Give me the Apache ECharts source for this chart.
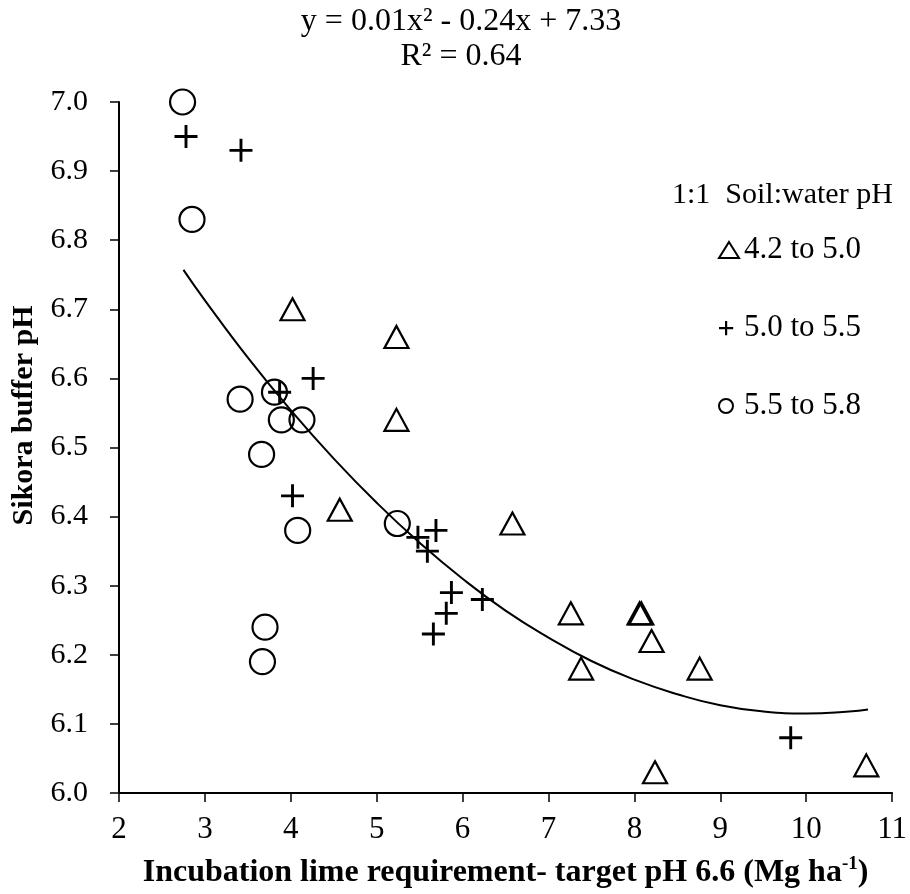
<!DOCTYPE html>
<html>
<head>
<meta charset="utf-8">
<script src="https://cdn.jsdelivr.net/npm/echarts@6/dist/echarts.min.js"></script>
<style>html,body{margin:0;padding:0;background:#fff}#c{width:910px;height:894px}</style>
</head>
<body>
<div id="c"></div>
<script>
// 4.2 to 5.0 (triangles)
var triX = [4.02, 5.23, 5.23, 4.57, 6.58, 7.26, 8.06, 8.08, 8.20, 7.38, 8.76, 8.24, 10.70];
var triY = [6.70, 6.66, 6.54, 6.41, 6.39, 6.26, 6.26, 6.26, 6.22, 6.18, 6.18, 6.03, 6.04];
// 5.0 to 5.5 (crosses)
var crossX = [2.78, 3.42, 3.87, 4.26, 4.02, 5.48, 5.69, 5.59, 5.87, 5.81, 5.66, 6.23, 9.82];
var crossY = [6.95, 6.93, 6.58, 6.60, 6.43, 6.37, 6.38, 6.35, 6.29, 6.26, 6.23, 6.28, 6.08];
// 5.5 to 5.8 (circles)
var circX = [2.74, 2.85, 3.41, 3.81, 3.89, 4.13, 3.66, 4.08, 5.24, 3.70, 3.67];
var circY = [7.00, 6.83, 6.57, 6.58, 6.54, 6.54, 6.49, 6.38, 6.39, 6.24, 6.19];
// trend line
var trendX = [2.75, 3.0, 3.5, 4.0, 4.5, 5.0, 5.5, 6.0, 6.5, 7.0, 7.5, 8.0, 8.5, 9.0, 9.5, 10.0, 10.5, 10.72];
var trendY = [6.757, 6.713, 6.630, 6.554, 6.484, 6.420, 6.362, 6.310, 6.264, 6.225, 6.191, 6.164, 6.143, 6.127, 6.118, 6.115, 6.118, 6.121];
var seriesNames = ['4.2 to 5.0', '5.0 to 5.5', '5.5 to 5.8'];
var xTicks = {min: 2, max: 11, interval: 1};
var yTicks = {min: 6.0, max: 7.0, interval: 0.1};

function pairs(xs, ys) { return xs.map(function (x, i) { return [x, ys[i]]; }); }

var FONT = '"Liberation Serif", "Times New Roman", serif';
var plusPath = 'path://M9,0h2.6v9h9v2.6h-9v9h-2.6v-9h-9v-2.6h9z';
// legend icons (padded to the 20x16 legend box, left aligned)
var legendPlus = 'path://M0,0M20,16M0,7h6v-6h2.2v6h6v2.2h-6v6h-2.2v-6h-6z';
var legendCircle = 'path://M0,0M20,16M14,8A7,7,0,1,1,0,8A7,7,0,1,1,14,8z';

var chart = echarts.init(document.getElementById('c'), null, {renderer: 'canvas'});
chart.setOption({
  animation: false,
  backgroundColor: '#fff',
  textStyle: {fontFamily: FONT, color: '#000'},
  grid: {left: 119, right: 16, top: 102, bottom: 101, containLabel: false},
  graphic: [
    {type: 'text', x: 461, y: 22, style: {text: 'y = 0.01x² - 0.24x + 7.33', font: '32px ' + FONT, fill: '#000', textAlign: 'center', textVerticalAlign: 'middle'}},
    {type: 'text', x: 461, y: 57, style: {text: 'R² = 0.64', font: '32px ' + FONT, fill: '#000', textAlign: 'center', textVerticalAlign: 'middle'}},
    {type: 'text', x: 672, y: 195, style: {text: '1:1  Soil:water pH', font: '30px ' + FONT, fill: '#000', textAlign: 'left', textVerticalAlign: 'middle'}}
  ],
  legend: {
    orient: 'vertical',
    left: 713,
    top: 229,
    padding: 5,
    itemWidth: 20,
    itemHeight: 16,
    itemGap: 46,
    textStyle: {fontFamily: FONT, fontSize: 31, color: '#000', lineHeight: 32},
    data: [
      {name: seriesNames[0], icon: 'triangle'},
      {name: seriesNames[1], icon: legendPlus},
      {name: seriesNames[2], icon: legendCircle}
    ]
  },
  xAxis: {
    type: 'value',
    min: xTicks.min, max: xTicks.max, interval: xTicks.interval,
    splitLine: {show: false},
    axisLine: {show: true, onZero: false, lineStyle: {color: '#000', width: 2}},
    axisTick: {show: true, inside: false, length: 9, lineStyle: {color: '#000', width: 1.5}},
    axisLabel: {fontFamily: FONT, fontSize: 31, color: '#000', margin: 21},
    name: '{a|Incubation lime requirement- target pH 6.6 (Mg ha}{s|-1}{a|)}',
    nameLocation: 'middle',
    nameGap: 62,
    nameTextStyle: {
      rich: {
        a: {fontFamily: FONT, fontSize: 32, fontWeight: 'bold', color: '#000', lineHeight: 36},
        s: {fontFamily: FONT, fontSize: 19, fontWeight: 'bold', color: '#000', verticalAlign: 'top', lineHeight: 19, padding: [0, 0, 14, 0]}
      }
    }
  },
  yAxis: {
    type: 'value',
    min: yTicks.min, max: yTicks.max, interval: yTicks.interval,
    splitLine: {show: false},
    axisLine: {show: true, onZero: false, lineStyle: {color: '#000', width: 2}},
    axisTick: {show: true, inside: false, length: 9, lineStyle: {color: '#000', width: 1.5}},
    axisLabel: {fontFamily: FONT, fontSize: 30, color: '#000', margin: 31, formatter: function (v) { return v.toFixed(1); }},
    name: 'Sikora buffer pH',
    nameLocation: 'middle',
    nameRotate: 90,
    nameGap: 68,
    nameTextStyle: {fontFamily: FONT, fontSize: 30, fontWeight: 'bold', color: '#000', padding: [0, 0, 0, 64]}
  },
  series: [
    {
      name: 'trend', type: 'line', data: pairs(trendX, trendY), smooth: true,
      showSymbol: false, symbol: 'none', silent: true,
      lineStyle: {color: '#000', width: 2}, z: 1
    },
    {
      name: seriesNames[0], type: 'scatter', data: pairs(triX, triY),
      symbol: 'triangle', symbolSize: [24, 22],
      itemStyle: {color: 'rgba(0,0,0,0)', borderColor: '#000', borderWidth: 2.2, opacity: 1}, z: 3
    },
    {
      name: seriesNames[1], type: 'scatter', data: pairs(crossX, crossY),
      symbol: plusPath, symbolSize: [23, 23],
      itemStyle: {color: '#000', opacity: 1}, z: 3
    },
    {
      name: seriesNames[2], type: 'scatter', data: pairs(circX, circY),
      symbol: 'circle', symbolSize: 25,
      itemStyle: {color: 'rgba(0,0,0,0)', borderColor: '#000', borderWidth: 2.2, opacity: 1}, z: 3
    }
  ]
});
</script>
</body>
</html>
